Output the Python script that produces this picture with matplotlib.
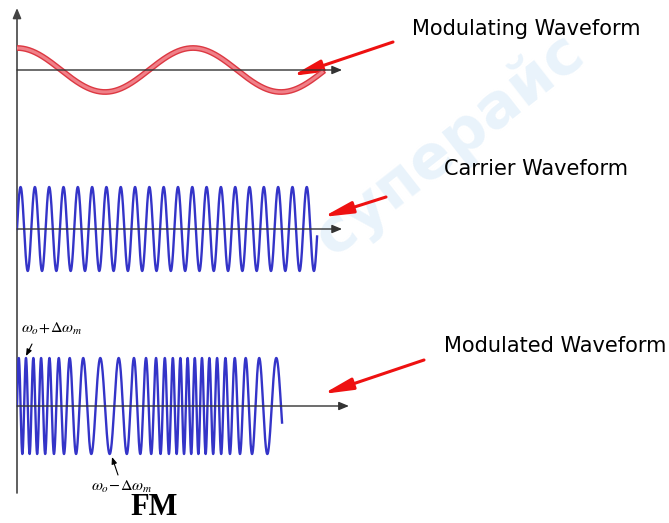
import numpy as np
import matplotlib.pyplot as plt
import matplotlib.patheffects as pe

# ---- data (signal parameters, time in periods of the modulating signal) ----
mod_span = [0.0, 1.733]          # red modulating cosine
carrier_span = [0.0, 1.705]      # blue carrier
fm_span = [0.0, 1.506]           # frequency-modulated wave
carrier_cycles = [12.3]          # carrier cycles per modulating period
fm_centre_cycles = [17.0]        # FM centre cycles per modulating period
fm_depth = [0.45]                # relative frequency deviation
axis_ends = [1.847, 1.847, 1.886]

labels = ["Modulating Waveform", "Carrier Waveform", "Modulated Waveform"]

W, H = 669, 523
fig = plt.figure(figsize=(W / 100, H / 100), dpi=100)
plt.rcParams['mathtext.fontset'] = 'stix'

# background axes in pixel units for labels / arrows
bg = fig.add_axes([0, 0, 1, 1])
bg.set_xlim(0, W)
bg.set_ylim(H, 0)
bg.axis('off')

# faint watermark
bg.text(450, 145, "суперайс", rotation=38, fontsize=44, color='#e9f3fb',
        ha='center', va='center', fontweight='bold', zorder=0)

x0_px, unit_px = 17, 176  # pixel of t=0, pixels per modulating period


def wave_axes(centre_px, amp_px):
    ylim = 1.2
    h = 2 * ylim * amp_px
    xmax = 1.95
    ax = fig.add_axes([x0_px / W, 1 - (centre_px + h / 2) / H,
                       xmax * unit_px / W, h / H])
    ax.set_xlim(0, xmax)
    ax.set_ylim(-ylim, ylim)
    ax.axis('off')
    return ax


# vertical axis shared by all three
bg.annotate('', xy=(x0_px, 8), xytext=(x0_px, 493),
            arrowprops=dict(arrowstyle='-|>,head_length=0.6,head_width=0.25',
                            color='#444444', lw=1.2, mutation_scale=10,
                            shrinkA=0, shrinkB=0))

# modulating waveform
ax1 = wave_axes(70, 22)
t = np.linspace(mod_span[0], mod_span[1], 600)
ax1.plot(t, np.cos(2 * np.pi * t), color='#f08088', lw=2.2,
         path_effects=[pe.Stroke(linewidth=4.2, foreground='#dc3842'), pe.Normal()])

# carrier
ax2 = wave_axes(229, 42)
t = np.linspace(carrier_span[0], carrier_span[1], 3000)
ax2.plot(t, np.sin(2 * np.pi * carrier_cycles[0] * t), color='#3434c8', lw=1.7)

# FM
ax3 = wave_axes(406, 48)
t = np.linspace(fm_span[0], fm_span[1], 4000)
phase = 2 * np.pi * fm_centre_cycles[0] * (t + fm_depth[0] * np.sin(2 * np.pi * t) / (2 * np.pi))
ax3.plot(t, np.sin(phase), color='#3434c8', lw=1.7)

for ax, xe in zip([ax1, ax2, ax3], axis_ends):
    ax.annotate('', xy=(xe, 0), xytext=(0, 0),
                arrowprops=dict(arrowstyle='-|>,head_length=0.6,head_width=0.25',
                                color='#333333', lw=1.0, mutation_scale=10,
                                shrinkA=0, shrinkB=0), annotation_clip=False)

# labels + red arrows
label_pos = [(412, 35), (444, 175), (444, 352)]
arrow_tail = [(393, 42), (386, 197), (424, 360)]
arrow_head = [(292, 76), (323, 217), (323, 394)]
for txt, (lx, ly), tail, head in zip(labels, label_pos, arrow_tail, arrow_head):
    bg.text(lx, ly, txt, fontsize=15, color='black', ha='left', va='baseline')
    bg.annotate('', xy=head, xytext=tail,
                arrowprops=dict(arrowstyle='-|>,head_length=1.1,head_width=0.22',
                                color='#ee1111', lw=2.2, mutation_scale=16,
                                shrinkA=0, shrinkB=0))

# small annotations on the FM wave
bg.text(21, 333, r'$\omega_o\!+\!\Delta\omega_m$', fontsize=11.5, color='black',
        ha='left', va='baseline')
bg.annotate('', xy=(26, 356), xytext=(32, 344),
            arrowprops=dict(arrowstyle='-|>,head_length=0.5,head_width=0.2',
                            color='black', lw=0.8, mutation_scale=8,
                            shrinkA=0, shrinkB=0))
bg.text(91, 491, r'$\omega_o\!-\!\Delta\omega_m$', fontsize=11.5, color='black',
        ha='left', va='baseline')
bg.annotate('', xy=(112, 457), xytext=(118, 475),
            arrowprops=dict(arrowstyle='-|>,head_length=0.5,head_width=0.2',
                            color='black', lw=0.8, mutation_scale=8,
                            shrinkA=0, shrinkB=0))
bg.text(154, 515, 'FM', fontsize=22, fontweight='bold', family='Liberation Serif',
        color='black', ha='center', va='baseline')

fig.savefig('out.png', dpi=100)
